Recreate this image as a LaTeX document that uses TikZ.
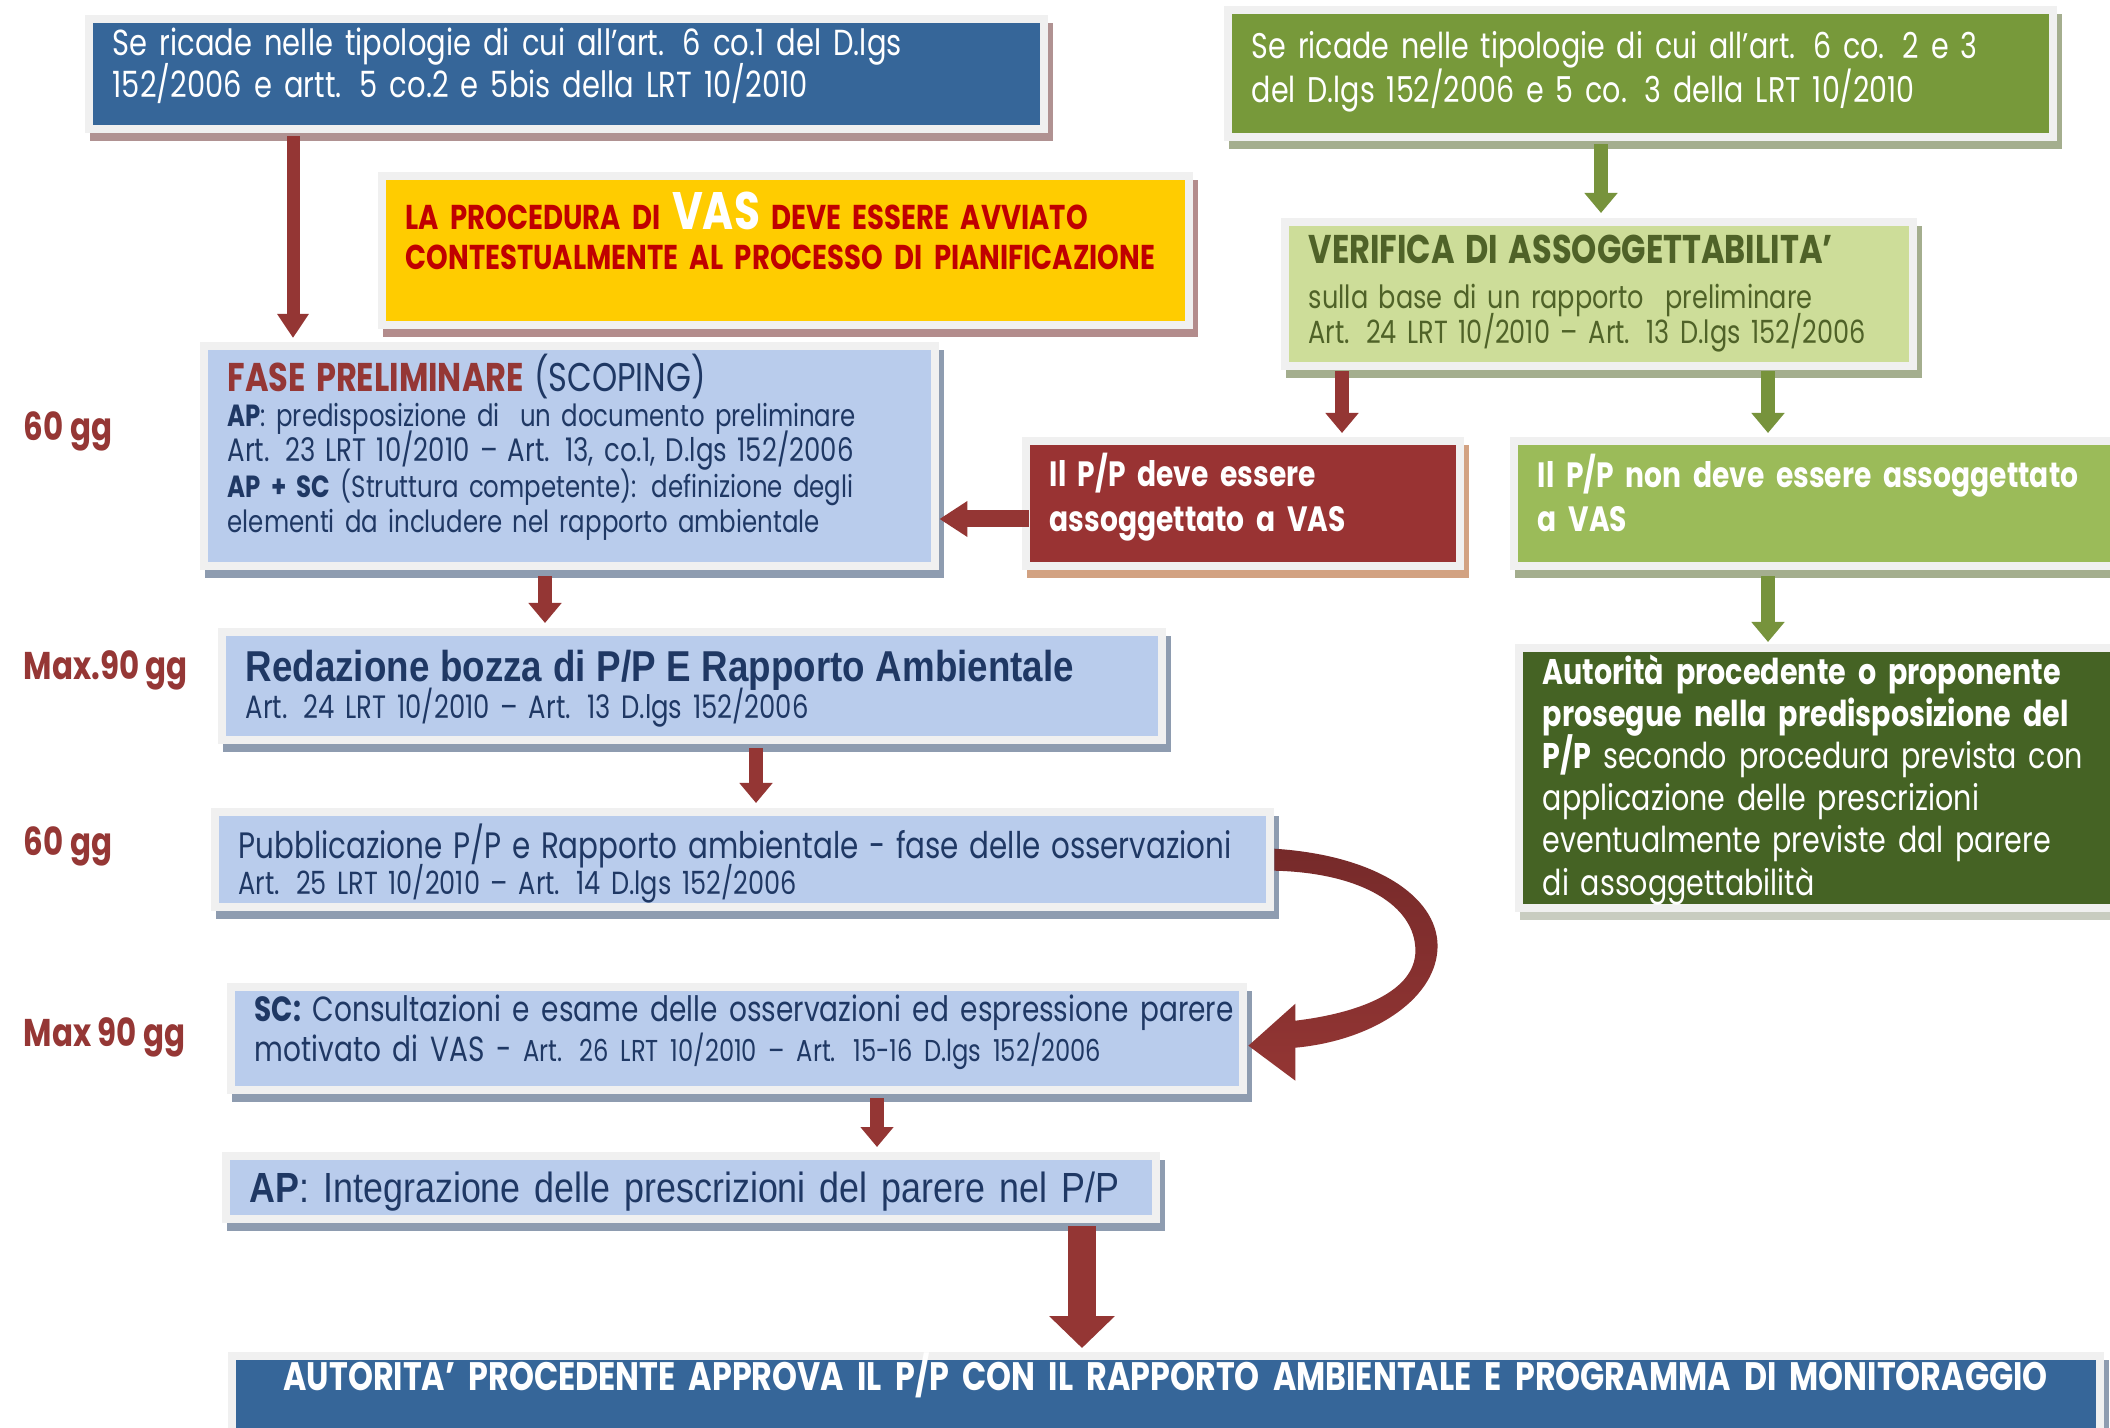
\documentclass[tikz,border=0pt]{standalone}
\usepackage{fontspec}
\setmainfont[FakeStretch=0.8]{Poppins}
\newfontfamily\arn[FakeStretch=0.85]{Liberation Sans}
\usetikzlibrary{arrows.meta,calc}
\newcommand\tup[1]{\par\vspace{#1}}
\definecolor{blueA}{HTML}{366699}
\definecolor{yel}{HTML}{FFCC00}
\definecolor{darkred}{HTML}{C00000}
\definecolor{greenC}{HTML}{77993A}
\definecolor{greenD}{HTML}{CDDD99}
\definecolor{olive}{HTML}{4F6228}
\definecolor{redE}{HTML}{993333}
\definecolor{greenF}{HTML}{9BBB59}
\definecolor{greenM}{HTML}{456324}
\definecolor{lblue}{HTML}{B9CCEC}
\definecolor{navy}{HTML}{1F3864}
\definecolor{lab}{HTML}{953735}
\definecolor{arrred}{HTML}{943634}
\definecolor{arrgreen}{HTML}{77933C}
\definecolor{framec}{HTML}{F0F0F0}
\definecolor{shA}{HTML}{B09292}
\definecolor{shB}{HTML}{B38C8C}
\definecolor{shC}{HTML}{A4AE8E}
\definecolor{shE}{HTML}{D2A282}
\definecolor{shL}{HTML}{8E9CB0}
\definecolor{shM}{HTML}{C8CCC0}
\definecolor{curvetop}{HTML}{762A2A}
\tikzset{
  bx/.style 2 args={anchor=north west, rectangle, inner xsep=2mm, inner ysep=0.3mm, align=left, fill=#1,
    execute at begin node={\lineskiplimit=-100pt\lineskip=0pt},
    preaction={fill=#2, draw=#2, line width=1.6mm, transform canvas={shift={(0.5mm,-0.8mm)}}},
    preaction={draw=framec, line width=1.6mm}},
  lbl/.style={anchor=west, inner sep=0pt, text=lab, font=\bfseries\fontsize{11}{13}\selectfont},
  redarr/.style={draw=arrred, line width=1.4mm, -{Triangle[width=3.2mm,length=2.0mm]}},
  greenarr/.style={draw=arrgreen, line width=1.4mm, -{Triangle[width=3.2mm,length=2.0mm]}},
}
\begin{document}
\begin{tikzpicture}[x=0.1mm,y=-0.1mm]
\useasboundingbox (0,0) rectangle (2110,1428);
\clip (0,0) rectangle (2110,1428);
\fill[white] (0,0) rectangle (2110,1428);

% boxes
\node[bx={blueA}{shA}, minimum width=94.7mm, minimum height=10.2mm, text width=90.7mm, text=white,
  font=\fontsize{10.3}{11.8}\selectfont] (A) at (92,22)
  {\mbox{Se ricade nelle tipologie di cui all’art. 6 co.1 del D.lgs}\\\mbox{152/2006 e artt. 5 co.2 e 5bis della LRT 10/2010}\tup{1.6mm}};

\node[bx={yel}{shB}, minimum width=79.9mm, minimum height=14.1mm, text width=75.9mm, text=darkred,
  font=\bfseries\fontsize{9.8}{11.5}\selectfont] (B) at (385,179)
  {\mbox{LA PROCEDURA DI {\color{white}\fontsize{15}{11.5}\selectfont VAS} DEVE ESSERE AVVIATO}\\\mbox{CONTESTUALMENTE AL PROCESSO DI PIANIFICAZIONE}\tup{3.9mm}};

\node[bx={greenC}{shC}, minimum width=81.7mm, minimum height=11.9mm, text width=77.7mm, text=white,
  font=\fontsize{10.15}{12.5}\selectfont] (C) at (1231,13)
  {\mbox{Se ricade nelle tipologie di cui all’art. 6 co. 2 e 3}\\\mbox{del D.lgs 152/2006 e 5 co. 3 della LRT 10/2010}\tup{0.3mm}};

\node[bx={greenD}{shC}, minimum width=62mm, minimum height=13.6mm, text width=58mm, text=olive,
  font=\fontsize{9.1}{10}\selectfont] (D) at (1288,225)
  {{\bfseries\fontsize{11.4}{10}\selectfont VERIFICA DI ASSOGGETTABILITA’}\\[0.9mm]\mbox{sulla base di un rapporto \ preliminare}\\\mbox{Art. 24 LRT 10/2010 – Art. 13 D.lgs 152/2006}};

\node[bx={redE}{shE}, minimum width=42.6mm, minimum height=11.7mm, text width=38.6mm, text=white,
  font=\bfseries\fontsize{10}{12.6}\selectfont] (E) at (1029,444)
  {\mbox{Il P/P deve essere}\\\mbox{assoggettato a VAS}\tup{1.2mm}};

\node[bx={greenF}{shC}, minimum width=62mm, minimum height=11.7mm, text width=58mm, text=white,
  font=\bfseries\fontsize{10}{12.6}\selectfont] (F) at (1517,444)
  {\mbox{Il P/P non deve essere assoggettato}\\\mbox{a VAS}\tup{2.0mm}};

\node[bx={lblue}{shL}, minimum width=72.3mm, minimum height=21.2mm, text width=68.3mm, text=navy,
  font=\fontsize{8.7}{10}\selectfont] (G) at (207,349)
  {{\fontsize{11.4}{10}\selectfont{\bfseries\color{lab}FASE PRELIMINARE} (SCOPING)}\\
   \mbox{{\bfseries AP}: predisposizione di \ un documento preliminare}\\
   \mbox{\fontsize{9.25}{10}\selectfont Art. 23 LRT 10/2010 – Art. 13, co.1, D.lgs 152/2006}\\
   \mbox{{\bfseries AP + SC} (Struttura competente): definizione degli}\\
   \mbox{elementi da includere nel rapporto ambientale}\tup{1.7mm}};

\node[bx={lblue}{shL}, minimum width=93.2mm, minimum height=10mm, text width=89.2mm, text=navy,
  font=\fontsize{9.2}{10.3}\selectfont] (H) at (225,635)
  {\mbox{\arn\bfseries\fontsize{12.3}{10.3}\selectfont Redazione bozza di P/P E Rapporto Ambientale}\\
   \mbox{Art. 24 LRT 10/2010 – Art. 13 D.lgs 152/2006}\tup{-0.6mm}};

\node[bx={lblue}{shL}, minimum width=104.7mm, minimum height=8.7mm, text width=100.7mm, text=navy,
  font=\fontsize{9.1}{10.4}\selectfont] (I) at (218,815)
  {\mbox{\fontsize{10.45}{10.4}\selectfont Pubblicazione P/P e Rapporto ambientale - fase delle osservazioni}\\
   \mbox{Art. 25 LRT 10/2010 – Art. 14 D.lgs 152/2006}\tup{-0.9mm}};

\node[bx={lblue}{shL}, minimum width=100.4mm, minimum height=9.5mm, text width=96.4mm, text=navy,
  font=\fontsize{9.95}{11.5}\selectfont] (J) at (234,990)
  {\mbox{{\bfseries SC:} Consultazioni e esame delle osservazioni ed espressione parere}\\
   \mbox{motivato di VAS - {\fontsize{8.6}{11.5}\selectfont Art. 26 LRT 10/2010 – Art. 15-16 D.lgs 152/2006}}\tup{1.2mm}};

\node[bx={lblue}{shL}, minimum width=92.2mm, minimum height=5.5mm, text width=88.2mm, text=navy,
  font=\arn\fontsize{12}{13}\selectfont] (K) at (229,1159)
  {\mbox{{\bfseries AP}: Integrazione delle prescrizioni del parere nel P/P}\tup{-1.1mm}};

\node[bx={blueA}{shL}, minimum width=186mm, minimum height=6.6mm, text width=182mm, text=white, align=center,
  font=\bfseries\fontsize{11.3}{12}\selectfont, text height=2.8mm, text depth=4mm] (L) at (235,1359)
  {AUTORITA’ PROCEDENTE APPROVA IL P/P CON IL RAPPORTO AMBIENTALE E PROGRAMMA DI MONITORAGGIO};

\node[bx={greenM}{shM}, minimum width=62mm, minimum height=25.2mm, text width=58mm, text=white, inner ysep=0mm,
  font=\fontsize{10.15}{12}\selectfont] (M) at (1522,651)
  {\mbox{\bfseries Autorità procedente o proponente}\\
   \mbox{\bfseries prosegue nella predisposizione del}\\
   \mbox{{\bfseries P/P} secondo procedura prevista con}\\
   \mbox{applicazione delle prescrizioni}\\
   \mbox{eventualmente previste dal parere}\\
   \mbox{di assoggettabilità}\tup{-0.4mm}};

% labels
\node[lbl] (l1) at (23,431) {60 gg};
\node[lbl] (l2) at (23,670) {Max.90 gg};
\node[lbl] (l3) at (23,846) {60 gg};
\node[lbl] (l4) at (23,1037) {Max 90 gg};

% arrows
\coordinate (xAG) at (293,0);
\coordinate (xDE) at (1342,0);
\coordinate (xDF) at (1768,0);
\coordinate (xCD) at (1601,0);
\coordinate (xGH) at (545,0);
\coordinate (xHI) at (756,0);
\coordinate (xJK) at (877,0);
\coordinate (xKL) at (1082,0);
\coordinate (yEG) at (0,519);

\draw[redarr, line width=1.3mm, -{Triangle[width=3mm,length=2.4mm]}, shorten <=1.1mm, shorten >=1.1mm]
  (A.south -| xAG) -- (G.north -| xAG);
\draw[greenarr, shorten <=1.1mm, shorten >=1.2mm] (C.south -| xCD) -- (D.north -| xCD);
\draw[redarr, shorten <=0.9mm, shorten >=1.1mm] (D.south -| xDE) -- (E.north -| xDE);
\draw[greenarr, shorten <=0.9mm, shorten >=1.1mm] (D.south -| xDF) -- (F.north -| xDF);
\draw[redarr, line width=1.7mm, -{Triangle[width=3.4mm,length=2.8mm]}, shorten >=0.8mm]
  (E.west |- yEG) -- (G.east |- yEG);
\draw[redarr, shorten <=1.4mm, shorten >=1.2mm] (G.south -| xGH) -- (H.north -| xGH);
\draw[redarr, shorten <=1.2mm, shorten >=1.2mm] (H.south -| xHI) -- (I.north -| xHI);
\draw[redarr, shorten <=1.2mm, shorten >=1.2mm] (J.south -| xJK) -- (K.north -| xJK);
\draw[greenarr, shorten <=1.4mm, shorten >=0.9mm] (F.south -| xDF) -- (M.north -| xDF);
\draw[draw=arrred, line width=2.8mm, -{Triangle[width=6.4mm,length=3.2mm]}, shorten <=1.1mm, shorten >=1.1mm]
  (K.south -| xKL) -- (L.north -| xKL);

% curved arrow from I to J
\begin{scope}[shift={(I.east)}]
\shade[top color=curvetop, bottom color=arrred]
  (8,-10.5) .. controls (115,-3.5) and (175,41.5) .. (171,91.5)
  .. controls (167,141.5) and (105,181.5) .. (29,188.5)
  -- (29,221.5) -- (-18,186.5) -- (29,144.5) -- (29,161.5)
  .. controls (95,153.5) and (149,131.5) .. (149,91.5)
  .. controls (149,46.5) and (95,13.5) .. (8,11.5) -- cycle;
\end{scope}
\end{tikzpicture}
\end{document}
